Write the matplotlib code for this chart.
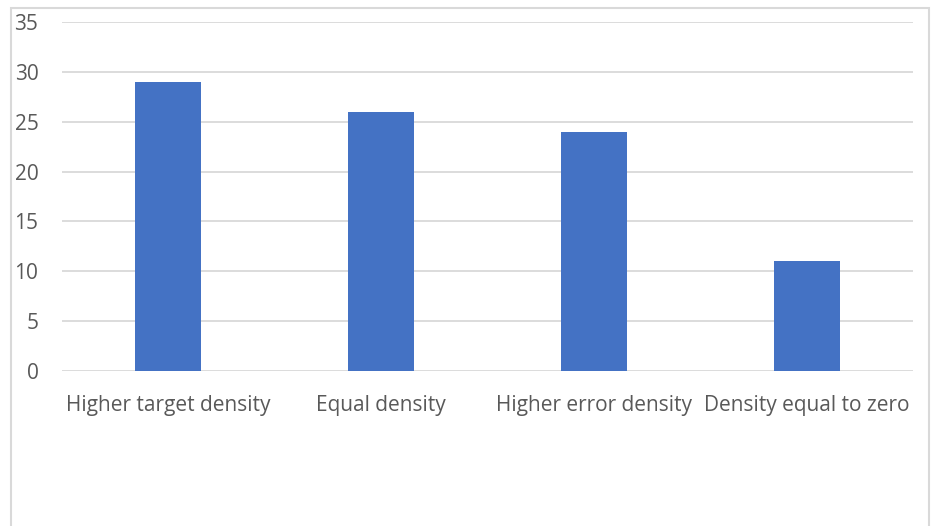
import matplotlib
matplotlib.use("Agg")
import matplotlib.pyplot as plt
from matplotlib.patches import Rectangle

categories = ["Higher target density", "Equal density",
              "Higher error density", "Density equal to zero"]
values = [29, 26, 24, 11]
y_ticks = [0, 5, 10, 15, 20, 25, 30, 35]

BAR = "#4472C4"
GRID = "#D9D9D9"
TEXT = "#595959"

plt.rcParams["font.family"] = ["Open Sans", "DejaVu Sans"]

W, H = 937, 526
fig = plt.figure(figsize=(W / 100, H / 100), dpi=100, facecolor="white")
ax = fig.add_axes([62 / W, 1 - 371 / H, (913 - 62) / W, (371 - 22) / H])

x = range(len(categories))
ax.bar(x, values, width=0.31, color=BAR, zorder=3)

ax.set_xlim(-0.5, len(categories) - 0.5)
ax.set_ylim(0, 35)
ax.set_yticks(y_ticks)
ax.set_xticks(list(x))
ax.set_xticklabels(categories)
ax.yaxis.grid(True, color=GRID, linewidth=1.3, zorder=0)
ax.set_axisbelow(True)
for s in ax.spines.values():
    s.set_visible(False)
ax.tick_params(axis="y", length=0, pad=17, labelsize=15, labelcolor=TEXT)
ax.tick_params(axis="x", length=0, pad=17, labelsize=15, labelcolor=TEXT)

# outer chart border (bottom edge is cut off in the reference)
fig.patches.append(Rectangle((11 / W, -0.1), (929 - 11) / W, 1.1 - 8 / H,
                             transform=fig.transFigure, fill=False,
                             edgecolor=GRID, linewidth=1.5))

fig.savefig("out.png", dpi=100, facecolor="white")
